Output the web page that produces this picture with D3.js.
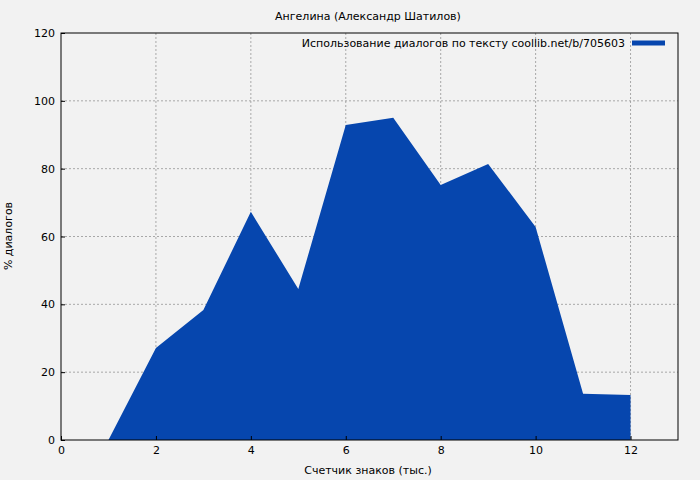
<!DOCTYPE html><html><head><meta charset="utf-8"><script src="https://cdn.jsdelivr.net/npm/d3@7"></script>
<style>body{margin:0;background:#f2f2f2}text{font-family:"DejaVu Sans",sans-serif;font-size:11px;fill:#000}</style></head><body><svg width="700" height="480"></svg>
<script>
const xs=[1,2,3,4,5,6,7,8,9,10,11,12];
const ys=[0,27.1,38.3,67.3,44.5,92.9,95,75.2,81.4,62.8,13.6,13.3];
const xTicks=[0,2,4,6,8,10,12], yTicks=[0,20,40,60,80,100,120];
const svg=d3.select("svg");
svg.append("rect").attr("width",700).attr("height",480).attr("fill","#f2f2f2");
const L=61,R=678,T=33,B=440;
const x=d3.scaleLinear().domain([0,13]).range([L,R]);
const y=d3.scaleLinear().domain([0,120]).range([B,T]);
const g=svg.append("g");
xTicks.slice(1).forEach(t=>g.append("line").attr("x1",x(t)).attr("x2",x(t)).attr("y1",T).attr("y2",B).attr("stroke","#888").attr("stroke-dasharray","2,2").attr("stroke-width",0.7));
yTicks.slice(1,-1).forEach(t=>g.append("line").attr("x1",L).attr("x2",R).attr("y1",y(t)).attr("y2",y(t)).attr("stroke","#888").attr("stroke-dasharray","2,2").attr("stroke-width",0.7));
const data=xs.map((d,i)=>[d,ys[i]]);
svg.append("path").datum(data).attr("fill","#0646ae").attr("d",d3.area().x(d=>x(d[0])).y0(B).y1(d=>y(d[1])));
svg.append("rect").attr("x",L).attr("y",T).attr("width",R-L).attr("height",B-T).attr("fill","none").attr("stroke","#000");
const xa=svg.append("g").attr("transform",`translate(0,${B})`).call(d3.axisBottom(x).tickValues(xTicks).tickSize(-4).tickPadding(6));
const ya=svg.append("g").attr("transform",`translate(${L},0)`).call(d3.axisLeft(y).tickValues(yTicks).tickSize(-4).tickPadding(6));
[xa,ya].forEach(a=>{a.select(".domain").remove();a.selectAll("text").style("font-family","DejaVu Sans").style("font-size","11px");});
svg.append("text").attr("x",368).attr("y",20).attr("text-anchor","middle").text("Ангелина (Александр Шатилов)");
svg.append("text").attr("x",368).attr("y",474).attr("text-anchor","middle").text("Счетчик знаков (тыс.)");
svg.append("text").attr("transform","translate(12,236) rotate(-90)").attr("text-anchor","middle").text("% диалогов");
svg.append("text").attr("x",625).attr("y",47).attr("text-anchor","end").text("Использование диалогов по тексту coollib.net/b/705603");
svg.append("line").attr("x1",632).attr("x2",665).attr("y1",43).attr("y2",43).attr("stroke","#0646ae").attr("stroke-width",5);
</script></body></html>
